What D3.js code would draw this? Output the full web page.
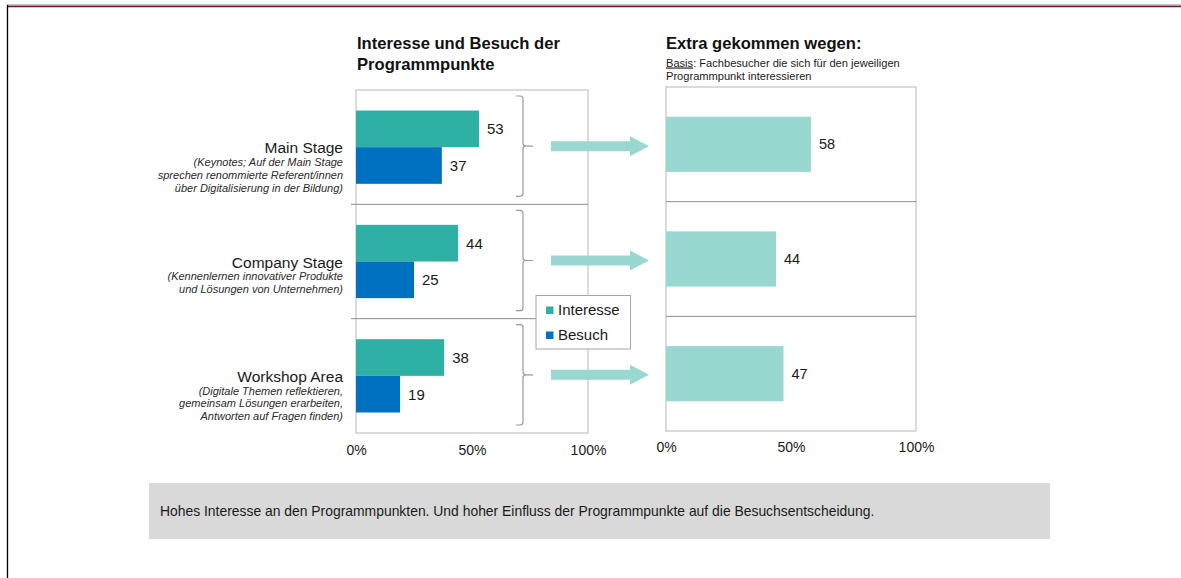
<!DOCTYPE html>
<html>
<head>
<meta charset="utf-8">
<script src="https://cdn.jsdelivr.net/npm/d3@7"></script>
<style>
  html, body { margin: 0; padding: 0; background: #fff; }
  svg { display: block; font-family: "Liberation Sans", Arial, sans-serif; }
</style>
</head>
<body>
<div id="chart"></div>
<script>
// Daten
const categories = ["Main Stage", "Company Stage", "Workshop Area"];
const descriptions = [
  ["(Keynotes; Auf der Main Stage", "sprechen renommierte Referent/innen", "über Digitalisierung in der Bildung)"],
  ["(Kennenlernen innovativer Produkte", "und Lösungen von Unternehmen)"],
  ["(Digitale Themen reflektieren,", "gemeinsam Lösungen erarbeiten,", "Antworten auf Fragen finden)"]
];
const seriesNames = ["Interesse", "Besuch"];
const interesse = [53, 44, 38];
const besuch = [37, 25, 19];
const extra = [58, 44, 47];
const tickValues = [0, 50, 100];
const tickLabels = ["0%", "50%", "100%"];

const COLORS = {
  Interesse: "#2eb0a4",
  Besuch: "#0070c0",
  extra: "#99d8d1",
  frame: "#c4c4c4",
  divider: "#8c8c8c",
  brace: "#9a9a9a",
  text: "#1a1a1a"
};

const width = 1181, height = 578;
const svg = d3.select("#chart").append("svg")
  .attr("width", width).attr("height", height)
  .attr("viewBox", [0, 0, width, height]);

// Rahmen der Folie
svg.append("line").attr("x1", 7).attr("x2", width).attr("y1", 5).attr("y2", 5)
  .attr("stroke", "#8a8a8a").attr("stroke-width", 1);
svg.append("line").attr("x1", 7).attr("x2", width).attr("y1", 6.5).attr("y2", 6.5)
  .attr("stroke", "#6e1d27").attr("stroke-width", 1.6);
svg.append("line").attr("x1", 7.5).attr("x2", 7.5).attr("y1", 5).attr("y2", height)
  .attr("stroke", "#000").attr("stroke-width", 1.3);

// ---------- Linkes Diagramm ----------
const xL = d3.scaleLinear().domain([0, 100]).range([356, 588]);
const yL = d3.scaleBand().domain(categories).range([90, 433]);
const ySub = d3.scaleBand().domain(seriesNames).range([0, yL.step()]).paddingOuter(0.56).paddingInner(0);

const left = svg.append("g");

left.append("rect")
  .attr("x", xL(0)).attr("y", yL.range()[0])
  .attr("width", xL(100) - xL(0)).attr("height", yL.range()[1] - yL.range()[0])
  .attr("fill", "none").attr("stroke", COLORS.frame).attr("stroke-width", 1.2);

left.selectAll("line.div")
  .data(categories.slice(1))
  .join("line")
  .attr("class", "div")
  .attr("x1", xL(0) - 5).attr("x2", xL(100))
  .attr("y1", (d) => yL(d)).attr("y2", (d) => yL(d))
  .attr("stroke", COLORS.divider).attr("stroke-width", 1);

const leftData = [];
categories.forEach((c, i) => {
  leftData.push({ cat: c, series: "Interesse", value: interesse[i] });
  leftData.push({ cat: c, series: "Besuch", value: besuch[i] });
});

left.selectAll("rect.bar")
  .data(leftData)
  .join("rect")
  .attr("class", "bar")
  .attr("x", xL(0))
  .attr("y", (d) => yL(d.cat) + ySub(d.series))
  .attr("width", (d) => xL(d.value) - xL(0))
  .attr("height", ySub.bandwidth())
  .attr("fill", (d) => COLORS[d.series]);

left.selectAll("text.val")
  .data(leftData)
  .join("text")
  .attr("class", "val")
  .attr("x", (d) => xL(d.value) + 8)
  .attr("y", (d) => yL(d.cat) + ySub(d.series) + ySub.bandwidth() / 2 + 5.5)
  .attr("font-size", 15)
  .attr("fill", COLORS.text)
  .text((d) => d.value);

// Kategorienbeschriftung
const catLabels = left.selectAll("g.cat")
  .data(categories)
  .join("g")
  .attr("class", "cat")
  .attr("transform", (d) => `translate(343,${yL(d) + yL.bandwidth() / 2 + 6})`);

catLabels.append("text")
  .attr("text-anchor", "end")
  .attr("font-size", 15.5)
  .attr("fill", COLORS.text)
  .text((d) => d);

catLabels.each(function (d, i) {
  d3.select(this).selectAll("text.desc")
    .data(descriptions[i])
    .join("text")
    .attr("class", "desc")
    .attr("text-anchor", "end")
    .attr("y", (_, j) => 12.8 * (j + 1))
    .attr("font-size", 11)
    .attr("font-style", "italic")
    .attr("fill", "#2a2a2a")
    .text((t) => t);
});

// Geschweifte Klammern
left.selectAll("path.brace")
  .data(categories)
  .join("path")
  .attr("class", "brace")
  .attr("d", (d) => {
    const t = yL(d) + 6, b = yL(d) + yL.bandwidth() - 8, m = yL(d) + yL.bandwidth() / 2 - 1;
    return `M516,${t} L520,${t} Q523,${t} 523,${t + 3} L523,${m - 3} Q523,${m} 526,${m} L533,${m}` +
      ` M526,${m} Q523,${m} 523,${m + 3} L523,${b - 3} Q523,${b} 520,${b} L516,${b}`;
  })
  .attr("fill", "none").attr("stroke", COLORS.brace).attr("stroke-width", 1.2);

// Achse links
const axisL = d3.axisBottom(xL)
  .tickValues(tickValues)
  .tickFormat((d, i) => tickLabels[i])
  .tickSize(0).tickPadding(12.5);
const gAxL = left.append("g").attr("transform", `translate(0,${yL.range()[1]})`).call(axisL);
gAxL.select(".domain").remove();
gAxL.selectAll("text").attr("font-size", 14).attr("fill", COLORS.text)
  .attr("font-family", "\"Liberation Sans\", Arial, sans-serif");

// Titel links
const titleL = left.append("text").attr("x", 357).attr("y", 49)
  .attr("font-size", 16.6).attr("font-weight", "bold").attr("fill", "#111");
titleL.append("tspan").attr("x", 357).text("Interesse und Besuch der");
titleL.append("tspan").attr("x", 357).attr("dy", 20.5).text("Programmpunkte");

// ---------- Rechtes Diagramm ----------
const xR = d3.scaleLinear().domain([0, 100]).range([666, 916]);
const yR = d3.scaleBand().domain(categories).range([87, 431]);
const yBar = d3.scaleBand().domain(["extra"]).range([0, yR.step()]).padding(0.35);

const right = svg.append("g");

right.append("rect")
  .attr("x", xR(0)).attr("y", yR.range()[0])
  .attr("width", xR(100) - xR(0)).attr("height", yR.range()[1] - yR.range()[0])
  .attr("fill", "none").attr("stroke", COLORS.frame).attr("stroke-width", 1.2);

right.selectAll("line.div")
  .data(categories.slice(1))
  .join("line")
  .attr("class", "div")
  .attr("x1", xR(0)).attr("x2", xR(100))
  .attr("y1", (d) => yR(d)).attr("y2", (d) => yR(d))
  .attr("stroke", COLORS.divider).attr("stroke-width", 1);

right.selectAll("rect.bar")
  .data(categories)
  .join("rect")
  .attr("class", "bar")
  .attr("x", xR(0))
  .attr("y", (d) => yR(d) + yBar("extra"))
  .attr("width", (d, i) => xR(extra[i]) - xR(0))
  .attr("height", yBar.bandwidth())
  .attr("fill", COLORS.extra);

right.selectAll("text.val")
  .data(categories)
  .join("text")
  .attr("class", "val")
  .attr("x", (d, i) => xR(extra[i]) + 8)
  .attr("y", (d) => yR(d) + yR.bandwidth() / 2 + 5)
  .attr("font-size", 14.5)
  .attr("fill", COLORS.text)
  .text((d, i) => extra[i]);

const axisR = d3.axisBottom(xR)
  .tickValues(tickValues)
  .tickFormat((d, i) => tickLabels[i])
  .tickSize(0).tickPadding(11.5);
const gAxR = right.append("g").attr("transform", `translate(0,${yR.range()[1]})`).call(axisR);
gAxR.select(".domain").remove();
gAxR.selectAll("text").attr("font-size", 14).attr("fill", COLORS.text)
  .attr("font-family", "\"Liberation Sans\", Arial, sans-serif");

// Titel rechts
right.append("text").attr("x", 666).attr("y", 49)
  .attr("font-size", 16.6).attr("font-weight", "bold").attr("fill", "#111")
  .text("Extra gekommen wegen:");
const basis = right.append("text").attr("x", 666).attr("y", 66.5)
  .attr("font-size", 11.1).attr("fill", COLORS.text);
basis.append("tspan").attr("text-decoration", "underline").text("Basis");
basis.append("tspan").text(": Fachbesucher die sich für den jeweiligen");
right.append("text").attr("x", 666).attr("y", 79.5)
  .attr("font-size", 11.1).attr("fill", COLORS.text)
  .text("Programmpunkt interessieren");

// Pfeile zwischen den Diagrammen
svg.append("g").selectAll("path")
  .data(categories)
  .join("path")
  .attr("d", (d) => {
    const c = yL(d) + yL.bandwidth() / 2 - 1;
    return `M551,${c - 5} L630,${c - 5} L630,${c - 10} L649,${c} L630,${c + 10} L630,${c + 5} L551,${c + 5} Z`;
  })
  .attr("fill", COLORS.extra);

// Legende
const legend = svg.append("g").attr("transform", "translate(536,295.5)");
legend.append("rect").attr("width", 94.5).attr("height", 53.5)
  .attr("fill", "#fff").attr("stroke", "#a6a6a6").attr("stroke-width", 1);
const li = legend.selectAll("g.item")
  .data(seriesNames)
  .join("g")
  .attr("class", "item")
  .attr("transform", (d, i) => `translate(10,${11 + i * 25})`);
li.append("rect").attr("width", 7.5).attr("height", 7.5).attr("fill", (d) => COLORS[d]);
li.append("text").attr("x", 12).attr("y", 8).attr("font-size", 15)
  .attr("fill", COLORS.text).text((d) => d);

// Fazit-Box
svg.append("rect").attr("x", 149).attr("y", 483).attr("width", 901).attr("height", 56)
  .attr("fill", "#d9d9d9");
svg.append("text").attr("x", 160).attr("y", 516)
  .attr("font-size", 13.9).attr("fill", COLORS.text)
  .text("Hohes Interesse an den Programmpunkten. Und hoher Einfluss der Programmpunkte auf die Besuchsentscheidung.");
</script>
</body>
</html>
